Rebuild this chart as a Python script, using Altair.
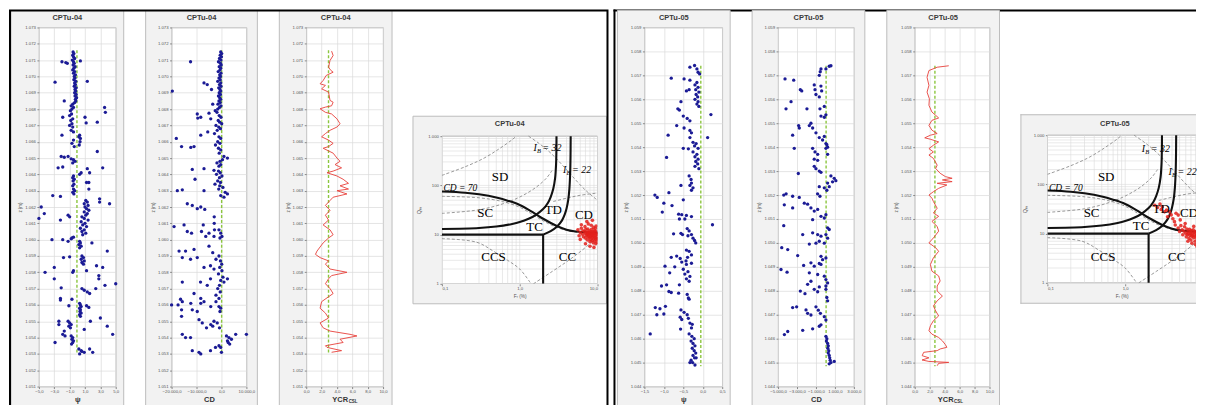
import altair as alt
import pandas as pd

# ---------------------------------------------------------------- data
# CPTu-04 : state parameter psi (z, psi)
psiL = [
(1071.5,-0.55),(1071.4,-0.45),(1071.3,-0.6),(1071.2,-0.5),(1071.1,-0.35),(1071.0,-0.65),(1070.9,-0.5),(1070.8,-0.4),
(1070.7,-0.55),(1070.6,-0.3),(1070.5,-0.45),(1070.4,-0.6),(1070.3,-0.35),(1070.2,-0.5),(1070.1,-0.25),(1070.0,-0.4),
(1069.9,-0.3),(1069.8,-0.45),(1069.7,-0.2),(1069.6,-0.35),(1069.5,-0.25),(1069.4,-0.4),(1069.3,-0.15),(1069.2,-0.3),
(1069.1,-0.2),(1069.0,-0.35),(1068.9,-0.15),(1068.8,-0.3),(1068.7,-0.1),(1068.6,-0.25),(1068.5,-0.2),(1068.4,-0.35),
(1068.3,-0.6),(1068.2,-0.8),(1068.1,-0.5),(1068.0,-0.7),
(1070.9,-2.0),(1070.85,-1.5),(1070.8,-1.3),(1070.95,0.4),(1069.65,-2.9),(1069.7,1.3),(1068.5,-1.7),(1068.1,3.55),
(1067.8,3.65),(1067.5,-1.9),(1067.5,1.0),(1067.15,1.15),(1067.2,2.6),(1066.4,-2.0),
(1067.9,-0.9),(1067.7,-0.75),(1067.6,-1.0),(1067.4,-0.6),(1067.3,-0.85),(1067.1,-0.7),(1067.0,-1.0),(1066.9,-0.6),
(1066.7,-0.8),(1066.6,-0.5),(1066.4,0.3),(1066.3,0.2),(1066.2,0.4),(1066.1,-0.5),(1066.0,0.35),(1065.9,-0.7),
(1065.8,0.25),(1065.7,-0.4),(1065.4,2.6),(1065.1,-2.1),(1065.05,-1.7),(1065.1,-1.2),(1064.95,-0.8),(1064.9,-0.5),
(1064.8,-0.3),(1064.7,-0.6),(1064.4,3.3),(1064.4,-2.5),(1064.45,-1.9),(1064.35,1.3),(1064.1,1.6),(1064.1,0.5),
(1064.0,0.3),(1063.9,-0.5),(1063.8,-0.6),(1063.7,-0.4),(1063.6,-0.55),(1063.5,1.2),(1063.5,1.5),(1063.4,-0.45),
(1063.3,-0.6),(1063.1,1.5),(1063.1,-0.5),(1063.0,-0.35),(1062.9,-0.6),(1062.8,-0.45),(1062.7,-3.2),(1062.65,-2.2),
(1062.5,2.9),
(1062.0,-4.7),(1061.6,-4.3),(1061.3,-5.0),(1061.5,-1.2),(1061.4,-1.0),(1061.2,-2.2),(1062.2,4.2),(1062.3,2.9),
(1062.4,1.1),(1062.3,1.3),(1062.2,0.9),(1062.1,1.4),(1062.0,1.0),(1061.9,1.2),(1061.8,1.5),(1061.7,0.9),
(1061.6,1.3),(1061.5,1.1),(1061.4,0.6),(1061.3,0.9),(1061.2,1.4),(1061.1,0.5),(1061.0,1.0),(1060.9,0.7),
(1060.8,1.2),(1060.7,0.4),(1060.6,0.9),(1060.5,0.6),(1060.4,1.1),(1060.3,0.7),
(1060.1,-0.7),(1060.15,-0.5),(1060.05,-0.8),(1060.0,-1.9),(1059.9,-1.2),(1060.0,-3.3),(1059.9,0.3),(1059.8,0.4),
(1059.7,0.2),(1059.6,0.5),(1059.5,0.3),(1059.8,1.9),(1059.3,3.9),(1058.9,-1.8),(1058.95,-1.0),(1059.0,0.6),
(1058.9,0.8),(1058.8,0.5),(1058.7,0.9),(1058.6,0.6),(1058.5,0.8),(1058.4,2.5),(1058.3,3.3),(1058.3,-3.0),
(1058.0,-4.2),(1057.6,-3.0),(1058.1,-0.5),(1058.0,-0.6),(1058.1,1.2),(1057.8,2.8),(1057.6,2.8),(1057.3,5.0),
(1057.2,3.6),(1057.0,0.6),(1056.9,0.9),(1056.8,1.3),(1056.7,1.6),(1057.05,-2.1),(1057.0,2.4),(1056.4,-2.2),
(1056.3,-2.2),(1056.35,-0.7),(1056.1,0.3),(1056.0,0.4),(1055.9,0.5),(1055.8,0.3),(1055.7,0.4),(1055.6,0.35),
(1055.5,0.5),(1055.4,0.3),(1055.3,0.4),(1055.95,-1.1),(1055.95,1.2),(1055.85,1.5),(1055.0,-2.4),(1054.8,-2.4),
(1055.0,-1.2),(1054.9,-1.0),(1054.8,-0.8),(1054.7,-1.1),(1054.6,-0.9),(1055.0,1.7),(1055.2,3.0),(1054.7,3.9),
(1054.2,4.6),(1054.5,0.9),(1054.4,-1.7),(1054.2,-1.9),(1054.1,-1.6),(1053.7,-2.9),(1054.1,-0.8),(1054.0,-0.6),
(1053.9,-0.7),(1053.8,-0.5),(1053.7,-0.6),(1053.6,-0.75),(1053.3,0.2),(1053.2,0.5),(1053.1,0.9),(1053.0,0.3),
(1053.15,0.6),(1053.3,1.6),(1053.1,2.0),
]

# CPTu-04 : CD (z, CD)
cdL = [
(1071.5,-300),(1071.4,100),(1071.3,-500),(1071.2,0),(1071.1,-800),(1071.0,-200),(1070.9,-1200),(1070.8,-400),
(1070.7,-100),(1070.6,-900),(1070.5,-300),(1070.4,-600),(1070.3,-1300),(1070.2,-200),(1070.1,-700),(1070.0,-400),
(1069.9,-1000),(1069.8,-500),(1069.7,-1500),(1069.6,-300),(1069.5,-800),(1069.4,-200),(1069.3,-1100),(1069.2,-600),
(1069.1,-300),(1069.0,-900),(1068.9,-400),(1068.8,-1200),(1068.7,-700),(1068.6,-300),(1068.5,-1000),(1068.4,-500),
(1068.3,-1400),(1068.2,-200),(1068.1,-800),(1068.0,-1500),
(1070.9,-12400),(1069.1,-19700),(1069.6,-7000),(1069.5,-5700),(1069.2,-4000),(1067.7,-9700),(1067.5,-8300),
(1067.45,-9500),(1067.75,-5000),(1067.4,-4300),(1068.3,-3500),(1066.2,-18100),(1065.7,-16000),(1065.65,-12300),
(1065.7,-11000),(1066.4,-8300),(1066.6,-5500),(1064.3,-11700),(1063.7,-10600),(1064.35,-7000),(1064.25,-3000),
(1064.5,-1000),(1063.0,-17700),(1063.05,-15700),(1063.0,-7000),
(1067.9,-2500),(1067.8,-1800),(1067.6,-900),(1067.5,-200),(1067.3,-1300),(1067.2,-700),(1067.1,100),(1067.0,-2200),
(1066.9,-1100),(1066.8,-400),(1066.7,-1700),(1066.5,-2800),(1066.3,-1000),(1066.2,-300),(1066.0,-1500),(1065.9,-600),
(1065.8,-2400),(1065.6,-1200),(1065.5,-300),(1065.3,-900),(1065.1,1000),(1065.0,2400),(1064.9,400),(1064.8,-600),
(1064.7,-1800),(1064.6,-300),(1064.2,-1200),(1064.1,-500),(1064.0,-2000),(1063.9,200),(1063.8,-800),(1063.6,-1500),
(1063.5,-400),(1063.4,-2600),(1063.3,-700),(1063.2,600),(1063.1,-1100),(1062.9,1500),(1062.8,2400),(1062.7,-300),
(1062.6,1000),
(1062.2,-13700),(1062.1,-11700),(1061.9,-9700),(1062.0,-8300),(1061.85,-6700),(1060.8,-19000),(1060.9,-15000),
(1060.5,-13700),(1060.4,-12000),(1060.9,-7300),(1060.5,-8000),(1060.4,-5000),(1060.2,-6300),(1061.4,-2900),
(1061.0,-2900),(1060.6,-2800),(1060.2,-3000),(1060.6,-1000),(1060.4,-300),(1060.2,200),(1060.1,-600),(1059.3,-17000),
(1059.3,-14400),(1059.4,-11000),(1058.9,-9700),(1059.6,-5000),(1059.2,-3500),(1058.8,-2200),(1058.9,-15700),
(1058.8,-12400),(1058.3,-7000),(1058.4,-4400),(1058.2,-3000),(1059.0,-1000),(1058.7,-400),(1058.5,100),(1058.3,-700),
(1058.1,200),(1057.9,-1200),(1057.7,600),(1057.6,2400),(1057.4,1000),(1057.5,-300),(1057.4,-15700),(1057.4,-8400),
(1057.2,-5700),(1057.6,-4400),(1057.2,-800),(1057.0,-1500),(1056.8,-500),(1056.7,-11000),(1056.4,-8300),
(1056.6,-2200),(1056.4,-1000),(1056.35,-16400),(1056.2,-15700),(1056.0,-20000),(1056.0,-17400),(1055.7,-16000),
(1056.1,-12300),(1056.1,-8300),(1056.2,-7000),(1055.7,-11700),(1055.6,-9700),(1055.9,-4300),(1056.2,-2200),
(1055.9,-1000),(1055.8,-300),(1055.6,-600),(1055.3,-16000),(1055.1,-9000),(1054.9,-7700),(1054.8,-4300),
(1054.6,-6000),(1055.0,-3000),(1054.7,-3500),(1054.9,-1700),(1054.6,-800),(1054.2,-15700),(1054.0,-14400),
(1054.0,-12400),(1054.1,2000),(1054.0,3000),(1053.9,4000),(1053.8,2400),(1053.7,2700),(1053.6,3300),(1054.2,5700),
(1054.2,10000),(1053.2,-11700),(1053.1,-9000),(1053.0,-8300),(1053.2,-4400),(1053.4,-2400),(1053.5,-1000),
(1053.4,-300),(1053.1,0),
]

# CPTu-04 : YCR_CSL profile (z, YCR)
ycrL = [
(1071.55,3.3),(1071.28,3.5),(1070.98,3.1),(1070.57,2.9),(1070.37,3.2),(1070.26,3.5),(1070.06,2.6),(1069.75,2.2),
(1069.55,1.8),(1069.45,2.5),(1069.24,2.0),(1069.04,2.9),(1068.53,3.1),(1068.42,3.5),(1068.2,3.3),(1068.12,2.5),
(1068.02,1.8),(1067.8,2.5),(1067.7,3.3),(1067.4,4.0),(1067.1,4.4),(1066.9,4.0),(1066.7,3.1),(1066.5,2.5),
(1066.3,2.0),(1066.1,2.9),(1065.9,3.5),(1065.7,2.9),(1065.6,2.2),(1065.3,3.5),(1065.0,4.0),(1064.8,4.4),
(1064.6,3.75),(1064.4,4.6),(1064.2,3.5),(1064.1,2.7),(1063.9,4.0),(1063.7,4.8),(1063.45,5.5),(1063.3,4.4),
(1063.1,5.5),(1063.0,4.0),(1062.8,5.3),(1062.6,3.5),(1062.4,3.1),(1062.1,2.5),(1061.8,3.1),(1061.5,2.5),
(1061.2,2.9),(1060.9,2.2),(1060.6,3.1),(1060.3,3.5),(1060.1,2.9),(1059.8,2.2),(1059.3,1.4),(1059.1,1.2),
(1058.9,1.8),(1058.7,2.9),(1058.5,2.5),(1058.2,3.1),(1058.0,5.3),(1057.8,3.3),(1057.6,2.9),(1057.3,2.5),
(1057.0,3.1),(1056.7,3.5),(1056.5,2.9),(1056.2,2.0),(1055.8,1.8),(1055.5,2.5),(1055.2,2.9),(1054.9,1.8),
(1054.6,2.2),(1054.4,3.1),(1054.2,5.7),(1054.1,6.6),(1053.9,4.4),(1053.7,4.8),(1053.5,2.5),(1053.4,2.7),
(1053.2,4.6),(1053.1,3.3),
]

# CPTu-05 : psi (z, psi)
psiR = [
(1057.34,-0.33),(1057.41,-0.21),(1057.27,-0.15),(1057.13,-0.12),(1057.06,-0.08),(1056.88,-0.81),(1056.85,-0.48),
(1056.8,-0.33),(1056.7,-0.15),(1056.6,-0.2),(1056.5,-0.12),(1056.4,-0.18),(1056.3,-0.1),(1056.2,-0.17),
(1056.1,-0.13),(1056.0,-0.2),(1055.9,-0.12),(1055.8,-0.15),(1055.7,-0.1),(1056.4,-0.35),(1056.35,-0.42),
(1055.9,-0.56),(1055.6,-0.64),(1055.55,-0.6),(1055.36,0.21),(1055.3,-0.5),(1055.2,-0.4),(1055.1,-0.33),
(1054.9,-0.67),(1054.8,-0.48),(1054.7,-0.33),(1054.6,-0.29),(1054.5,-0.89),(1054.4,-0.33),(1054.2,-0.25),
(1054.15,-0.17),(1054.05,-0.21),(1053.95,-0.12),(1054.4,0.125),(1053.95,-0.5),(1053.93,-0.37),(1053.8,-0.25),
(1053.7,-0.15),(1053.6,-0.2),(1053.5,-0.12),(1053.4,-0.18),(1053.3,-0.13),(1053.2,-0.2),(1053.1,-0.1),
(1053.57,-0.93),(1052.8,-0.35),(1052.65,-0.3),(1052.5,-0.29),(1052.4,-0.33),(1052.3,-0.25),(1052.2,-0.29),
(1052.4,-0.56),(1052.1,-0.87),(1052.0,-1.23),(1051.9,-1.17),(1051.8,-0.5),(1051.66,-1.0),(1051.56,-0.79),
(1051.29,-1.04),(1051.2,-0.62),(1051.18,-0.54),(1051.15,-0.42),(1051.0,-0.6),(1051.0,-0.46),(1051.1,-0.29),
(1050.76,0.25),(1050.38,-0.75),(1050.4,-0.56),(1050.35,-0.52),(1050.6,-0.4),(1050.5,-0.35),(1050.35,-0.29),
(1050.3,-0.38),(1050.2,-0.25),(1050.1,-0.21),(1050.0,-0.18),(1049.7,-0.42),(1049.65,-0.35),(1049.5,-0.29),
(1049.4,-0.39),(1049.25,-0.43),(1049.4,-0.81),(1049.45,-0.67),(1049.35,-0.58),(1049.2,-0.54),(1049.1,-0.42),
(1049.15,-0.29),(1049.03,-0.97),(1049.0,-0.72),(1048.75,-0.85),(1048.9,-0.5),(1048.8,-0.38),(1048.7,-0.46),
(1048.6,-0.33),(1048.5,-0.42),(1048.4,-0.35),(1048.2,-1.06),(1048.25,-0.93),(1047.97,-0.87),(1048.25,-0.6),
(1047.93,-0.81),(1047.9,-0.62),(1047.85,-0.4),(1047.65,-0.35),(1047.7,-0.37),(1047.3,-1.22),(1047.25,-1.1),
(1047.35,-0.96),(1047.0,-1.18),(1047.03,-1.0),(1047.2,-0.56),(1047.1,-0.48),(1046.9,-0.58),(1047.0,-0.4),
(1046.8,-0.54),(1046.85,-0.37),(1046.65,-0.33),(1046.6,-0.27),(1046.2,-1.35),(1046.4,-0.57),(1046.45,-0.29),
(1046.2,-0.35),(1046.1,-0.28),(1046.0,-0.22),(1045.9,-0.3),(1045.8,-0.25),(1045.7,-0.2),(1045.6,-0.27),
(1045.5,-0.22),(1045.4,-0.18),(1045.3,-0.25),(1045.2,-0.21),(1045.1,-0.3),(1045.0,-0.26),(1044.9,-0.2),
(1045.0,-0.33),(1045.2,-0.17),
]

# CPTu-05 : CD (z, CD)
cdR = [
(1057.38,400),(1057.4,580),(1057.27,-470),(1057.15,-550),(1057.0,-650),(1057.27,50),(1056.85,-4265),(1056.8,-3350),
(1056.6,-1180),(1056.55,-475),(1056.4,-1100),(1056.35,-400),(1056.2,-1000),(1056.1,-650),(1056.4,-2650),
(1056.35,-2500),(1055.9,-3630),(1055.6,-4160),(1055.6,-1950),(1055.6,-580),(1055.7,-120),(1055.0,-1530),
(1054.9,-1700),(1054.8,-1350),(1054.6,-1000),(1054.9,-2830),(1054.8,-2760),(1055.3,-470),(1055.25,-120),
(1055.35,50),(1054.5,-3460),(1054.4,-650),(1054.3,-300),(1054.45,-120),(1054.15,50),(1054.1,150),(1054.0,230),
(1053.95,-3290),(1053.95,-1350),(1053.8,-1100),(1053.7,-820),(1053.5,-1180),(1053.45,-820),(1053.95,50),
(1053.7,230),(1052.9,-2860),(1053.2,-1180),(1053.1,-1000),(1053.0,-650),(1052.95,-470),(1052.8,580),(1052.7,930),
(1052.6,1100),(1052.55,750),(1052.5,230),(1052.35,400),(1052.2,150),(1052.35,-650),(1052.3,-120),(1052.05,-830),
(1051.95,-580),(1052.0,-4400),(1052.05,-4150),(1051.95,-3460),(1051.9,-2760),(1051.59,-4340),(1051.46,-3460),
(1051.66,-2230),(1051.62,-1880),(1051.46,-1530),(1051.33,-1180),(1051.4,-820),(1051.11,-470),(1051.04,-120),
(1051.18,50),(1050.97,-1350),(1050.72,-4400),(1050.35,-2400),(1050.42,-1350),(1050.35,-820),(1050.28,-470),
(1050.63,230),(1050.56,400),(1050.35,50),(1050.2,230),(1049.95,-1700),(1049.99,-1000),(1050.07,-650),
(1049.99,-120),(1049.8,-4610),(1049.72,-3980),(1049.47,-2930),(1049.44,-470),(1049.3,-300),(1049.37,50),
(1049.06,-2300),(1049.17,-1530),(1049.03,-1180),(1049.14,-650),(1049.1,-470),(1048.89,-4690),(1048.78,-4050),
(1048.75,-1700),(1048.68,-820),(1048.61,-120),(1048.47,50),(1048.33,230),(1048.2,50),(1048.27,-1880),
(1048.4,-1530),(1047.99,-2650),(1047.88,-2160),(1048.06,-1180),(1047.96,-820),(1048.16,-650),(1048.06,50),
(1047.72,150),(1047.58,230),(1047.3,-3460),(1047.33,-3040),(1047.2,-2050),(1047.06,-1880),(1046.99,-1530),
(1047.33,-1000),(1047.19,-750),(1047.06,-530),(1046.92,-120),(1046.78,50),(1046.3,-3980),(1046.17,-4330),
(1046.35,-2400),(1046.41,-1350),(1046.52,-650),(1046.58,-470),(1046.1,50),(1046.0,150),(1045.9,100),
(1045.8,230),(1045.7,300),(1045.6,250),(1045.5,350),(1045.4,300),(1045.3,400),(1045.2,450),(1045.1,500),
(1045.0,580),(1045.05,930),(1044.95,400),
]

# CPTu-05 : YCR_CSL profile (z, YCR)
ycrR = [
(1057.4,4.55),(1057.34,3.0),(1057.2,1.9),(1056.92,1.65),(1056.58,1.9),(1056.3,1.65),(1056.02,1.96),(1055.75,1.9),
(1055.47,2.3),(1055.33,2.8),(1055.22,3.2),(1055.12,2.3),(1054.91,1.9),(1054.71,2.3),(1054.57,3.0),(1054.5,2.1),
(1054.39,1.34),(1054.33,2.1),(1054.22,3.2),(1054.08,2.5),(1053.94,1.9),(1053.8,2.5),(1053.67,1.9),(1053.53,2.5),
(1053.25,3.0),(1053.11,2.8),(1052.91,3.4),(1052.77,4.1),(1052.7,5.0),(1052.63,3.7),(1052.56,5.0),(1052.49,3.0),
(1052.42,4.3),(1052.28,3.2),(1052.14,2.5),(1052.0,1.9),(1051.87,2.3),(1051.73,2.5),(1051.45,3.0),(1051.25,2.5),
(1051.11,3.2),(1050.9,2.3),(1050.69,3.0),(1050.49,3.2),(1050.21,2.5),(1050.0,1.9),(1049.8,2.8),(1049.65,3.2),
(1049.38,2.5),(1049.1,2.1),(1048.82,2.3),(1048.62,3.2),(1048.41,3.4),(1048.2,3.0),(1047.99,3.0),(1047.78,3.7),
(1047.58,3.0),(1047.37,2.5),(1047.16,2.8),(1046.95,3.2),(1046.75,2.5),(1046.54,2.1),(1046.33,1.9),(1046.19,2.3),
(1046.05,3.2),(1045.91,3.7),(1045.75,4.1),(1045.64,4.3),(1045.57,3.4),(1045.5,3.0),(1045.43,1.2),(1045.29,1.0),
(1045.2,1.9),(1045.11,0.98),(1045.05,1.9),(1045.01,4.55),(1044.97,3.2),(1044.87,3.0),
]

# reference (green dashed) lines: value, z top, z bottom
refL = {"psi": (-0.05, 1071.6, 1053.0), "cd": (70, 1071.6, 1053.0), "ycr": (2.9, 1071.6, 1053.0)}
refR = {"psi": (-0.05, 1057.4, 1044.85), "cd": (70, 1057.4, 1044.85), "ycr": (2.7, 1057.4, 1044.85)}

# classification chart points (Fr %, Qtn)
redL = [
(5.6,12.5),(6.0,11.0),(6.2,13.5),(6.4,10.2),(6.5,12.0),(6.6,9.0),(6.8,11.5),(6.9,14.5),(7.0,10.5),(7.0,8.5),
(7.1,12.8),(7.2,9.6),(7.3,11.2),(7.4,10.0),(7.4,7.8),(7.5,13.0),(7.6,9.2),(7.6,11.0),(7.7,10.4),(7.8,8.6),
(7.8,12.0),(7.9,9.8),(8.0,10.8),(8.0,7.2),(8.1,9.0),(8.2,11.6),(8.2,8.0),(8.3,10.2),(8.4,9.4),(8.4,12.8),
(8.5,7.6),(8.6,10.8),(8.6,8.8),(8.7,9.9),(8.8,11.5),(8.8,6.8),(8.9,8.2),(9.0,10.4),(9.0,9.2),(9.1,12.0),
(9.2,7.4),(9.3,10.9),(9.3,8.6),(9.4,9.6),(9.5,11.8),(9.5,6.5),(9.6,8.0),(9.7,10.2),(9.8,9.0),(9.9,7.0),
(8.3,15.5),(7.6,16.5),(8.9,14.0),(9.6,15.0),(6.2,15.8),(7.0,6.5),(8.0,5.8),(9.0,5.5),(7.3,18.5),(8.6,19.5),
(9.4,13.5),(6.0,8.0),(5.8,9.5),(10.0,10.5),(10.0,8.2),
]
redR = [
(4.4,15.0),(4.8,13.0),(5.0,11.0),(5.2,14.5),(5.4,12.0),(5.5,9.5),(5.7,11.2),(5.8,13.8),(6.0,10.2),(6.1,8.6),
(6.2,12.4),(6.3,9.6),(6.4,11.0),(6.5,10.0),(6.6,8.0),(6.7,12.2),(6.8,9.2),(6.9,10.8),(7.0,9.8),(7.0,7.4),
(7.1,11.5),(7.2,8.8),(7.3,10.2),(7.4,9.0),(7.5,12.0),(7.6,8.2),(7.7,10.6),(7.8,9.4),(7.9,7.0),(8.0,11.0),
(8.1,8.6),(8.2,10.0),(8.3,9.0),(8.4,7.8),(8.5,10.6),(8.6,8.4),(8.8,9.6),(8.9,6.8),(9.0,11.4),(9.1,8.8),
(9.2,9.8),(9.4,7.6),(9.5,10.2),(9.6,8.4),(9.8,9.2),(9.9,6.2),(8.0,6.0),(7.2,6.4),(6.4,7.0),(8.6,13.0),
(7.6,14.0),(5.9,16.0),(9.3,12.6),(8.4,5.4),
(2.4,37.6),(2.6,34.0),(2.9,31.0),(3.2,27.7),(3.4,30.0),(3.7,27.7),(3.9,24.0),(3.5,22.0),(4.1,20.0),(4.8,23.8),
(4.3,17.5),(5.1,19.0),(3.0,35.0),(4.5,26.0),(2.8,40.0),
]

# boundaries of the classification chart (Fr %, Qtn)
bound_curves = {
    "cd70": [(0.1,75),(0.2,71),(0.3,66),(0.5,57),(0.7,49),(1.0,40),(1.5,28),(2.0,21),(3.0,15),(4.0,12.6),
             (5.0,11.7),(7.0,11.2),(10.0,11.0)],
    "ib32": [(0.1,13),(0.3,13.6),(0.5,14.6),(0.8,16.5),(1.0,18),(1.3,21),(1.6,25),(2.0,33),(2.3,44),(2.5,58),
             (2.7,85),(2.85,140),(2.93,260),(2.96,500),(2.97,1000)],
    "ib22": [(2.0,10),(2.5,11.8),(3.0,14.5),(3.5,19.5),(3.8,26),(4.0,34),(4.2,50),(4.35,85),(4.45,170),
             (4.5,400),(4.52,1000)],
    "h10": [(0.1,10),(2.0,10)],
    "v2": [(2.0,1),(2.0,10)],
}
dash_curves = {
    "a": [(0.1,160),(0.2,240),(0.35,360),(0.55,560),(0.8,850),(0.9,1000)],
    "b": [(1.3,1000),(1.8,700),(2.6,430),(3.6,250),(5.0,140),(7.0,80),(10.0,50)],
    "c": [(0.1,60),(0.3,56),(0.6,47),(1.0,36),(1.5,25),(2.0,19),(3.0,14),(5.0,11.3),(10.0,10.6)],
    "d": [(0.1,27),(0.3,32),(0.6,42),(1.0,58),(1.6,90),(2.2,140),(2.6,200)],
    "e": [(2.7,47),(4.0,55),(6.0,63),(10.0,70)],
    "f": [(0.1,8.3),(0.28,7.0),(0.46,4.6),(0.7,3.0),(1.0,2.0),(1.4,1.0)],
    "g": [(1.5,1.0),(2.5,1.7),(4.0,2.8),(6.0,4.5),(9.5,8.3)],
}
zonesL = [("SD",0.56,150),("SC",0.36,27),("TD",2.7,31),("CD",6.7,25),("TC",1.55,14.5),("CCS",0.46,3.5),("CC",4.1,3.5)]
zonesR = [("SD",0.57,140),("SC",0.37,26),("TD",2.9,32),("CD",6.6,26),("TC",1.6,14.5),("CCS",0.52,3.4),("CC",4.6,3.4)]
ib_labelsL = [("= 32",2.2,570),("= 22",5.3,205)]
ib_labelsR = [("= 32",2.4,520),("= 22",5.3,175)]
cd_labelL = ("CD = 70",0.105,90)
cd_labelR = ("CD = 70",0.105,85)

fr_grid = [0.1,0.2,0.3,0.4,0.5,0.6,0.7,0.8,0.9,1,2,3,4,5,6,7,8,9,10]
q_grid = [1,2,3,4,5,6,7,8,9,10,20,30,40,50,60,70,80,90,100,200,300,400,500,600,700,800,900,1000]

# ---------------------------------------------------------------- style
FONT = "Liberation Sans"
SERIF = "Liberation Serif"
H = 360
GRID = "#dadada"
BLUE = "#1b1b95"
GREEN = "#8cc63f"
REDL = "#e8403a"
BOXF = "#f2f2f2"
BOXS = "#bdbdbd"
ZLAB = "replace(format(datum.value, ','), ',', '.')"
DEC1 = "replace(format(datum.value, '.1f'), '.', ',')"
THOUS = "replace(replace(replace(format(datum.value, ',.1f'), ',', '#'), '.', ','), '#', '.')"


def one(**kw):
    return pd.DataFrame({k: [v] for k, v in kw.items()})


def rect(x1, x2, y1, y2, fill, stroke, sw):
    m = alt.Chart(one(a=0)).mark_rect(fill=fill, stroke=stroke, strokeWidth=sw) if sw > 0 else \
        alt.Chart(one(a=0)).mark_rect(fill=fill)
    return m.encode(x=alt.value(x1), x2=alt.value(x2), y=alt.value(y1), y2=alt.value(y2))


def spacer(w, rects):
    return alt.layer(*[rect(*r) for r in rects]).properties(
        width=w, height=H, view=alt.ViewBackground(fill="transparent", stroke="transparent"))


def depth(pts, kind, xdom, xvals, xexpr, zdom, width, xtitle, ptitle, tx, ref, sub=None):
    X = alt.X("v:Q", scale=alt.Scale(domain=xdom, nice=False, zero=False),
              axis=alt.Axis(values=xvals, labelExpr=xexpr, title=xtitle, grid=True, gridColor=GRID,
                            gridWidth=0.7, domain=False, tickSize=2, tickColor="#888", labelFontSize=4.3,
                            labelColor="#555", labelPadding=1, titleFontSize=7.5, titleFontWeight="bold",
                            titleColor="#333", titlePadding=2, labelFlush=False))
    Y = alt.Y("z:Q", scale=alt.Scale(domain=zdom, nice=False, zero=False),
              axis=alt.Axis(values=list(range(zdom[0], zdom[1] + 1)), labelExpr=ZLAB, title="z (m)",
                            grid=True, gridColor=GRID, gridWidth=0.7, domain=False, tickSize=2,
                            tickColor="#888", labelFontSize=4.3, labelColor="#555", labelPadding=1.5,
                            titleFontSize=4.5, titleFontWeight="normal", titleColor="#555",
                            titlePadding=2))
    df = pd.DataFrame(pts, columns=["z", "v"])
    if kind == "pts":
        main = alt.Chart(df).mark_circle(size=11, color=BLUE, opacity=1).encode(x=X, y=Y)
    else:
        df["i"] = range(len(df))
        main = alt.Chart(df).mark_line(color=REDL, strokeWidth=0.9).encode(x=X, y=Y, order="i:Q")
    g = alt.Chart(one(v=ref[0], z=ref[1], z2=ref[2])).mark_rule(
        color=GREEN, strokeDash=[3, 2], strokeWidth=1.4).encode(x=X, y=Y, y2="z2:Q")
    ttl = alt.Chart(one(t=ptitle)).mark_text(font=FONT, fontSize=7.5, fontWeight="bold", color="#3a3a3a",
                                             baseline="middle").encode(
        x=alt.value(tx), y=alt.value(-9), text="t:N")
    layers = [g, main, ttl]
    if sub is not None:
        cx = sub
        layers.append(alt.Chart(one(t="YCR")).mark_text(font=FONT, fontSize=7.5, fontWeight="bold",
                                                         color="#333", align="right", baseline="middle").encode(
            x=alt.value(cx), y=alt.value(H + 13), text="t:N"))
        layers.append(alt.Chart(one(t="CSL")).mark_text(font=FONT, fontSize=4.5, fontWeight="bold",
                                                         color="#333", align="left", baseline="middle").encode(
            x=alt.value(cx + 0.5), y=alt.value(H + 15.5), text="t:N"))
    return alt.layer(*layers).properties(
        width=width, height=H, view=alt.ViewBackground(fill="white", stroke="#a9a9a9", strokeWidth=0.8))


def curves_df(dct):
    rows = []
    for name, pts in dct.items():
        for i, (f, q) in enumerate(pts):
            rows.append({"c": name, "i": i, "fr": f, "q": q})
    return pd.DataFrame(rows)


def cchart(red, zones, ibl, cdl, ptitle, tx, ty, yrange, width, frmax, xvals):
    X = alt.X("fr:Q", scale=alt.Scale(type="log", domain=[0.1, frmax], nice=False),
              axis=alt.Axis(values=xvals,
                            labelExpr="datum.value < 0.5 ? '0,1' : (datum.value < 5 ? '1,0' : '10,0')",
                            title="Fᵣ (%)", grid=False, domain=False, tickSize=2, tickColor="#888",
                            labelFontSize=4.3, labelColor="#555", labelPadding=1, titleFontSize=4.8,
                            titleFontWeight="normal", titleColor="#555", titlePadding=2))
    Y = alt.Y("q:Q", scale=alt.Scale(type="log", domain=[1, 1000], range=yrange, nice=False),
              axis=alt.Axis(values=[1, 10, 100, 1000],
                            labelExpr="datum.value > 500 ? '1.000' : format(datum.value, 'd')",
                            title="Qₜₙ", grid=False, domain=False, tickSize=2, tickColor="#888",
                            labelFontSize=4.3, labelColor="#555", labelPadding=1.5, titleFontSize=5.5,
                            titleFontWeight="normal", titleColor="#555", titlePadding=6))
    frame = alt.Chart(one(fr=0.1, fr2=10, q=1, q2=1000)).mark_rect(
        fill="white", stroke="#9a9a9a", strokeWidth=0.8, clip=True).encode(x=X, x2="fr2:Q", y=Y, y2="q2:Q")
    vg = alt.Chart(pd.DataFrame({"fr": [f for f in fr_grid if f <= frmax], "q": 1, "q2": 1000})).mark_rule(
        color=GRID, strokeWidth=0.6, clip=True).encode(x=X, y=Y, y2="q2:Q")
    hg = alt.Chart(pd.DataFrame({"q": q_grid, "fr": 0.1, "fr2": 10})).mark_rule(
        color=GRID, strokeWidth=0.6, clip=True).encode(y=Y, x=X, x2="fr2:Q")
    dsh = alt.Chart(curves_df(dash_curves)).mark_line(
        color="#808080", strokeWidth=0.8, strokeDash=[3, 2], interpolate="catmull-rom", clip=True).encode(
        x=X, y=Y, detail="c:N", order="i:Q")
    bnd = alt.Chart(curves_df(bound_curves)).mark_line(
        color="#111", strokeWidth=2.1, interpolate="catmull-rom", clip=True).encode(
        x=X, y=Y, detail="c:N", order="i:Q")
    pts = alt.Chart(pd.DataFrame(red, columns=["fr", "q"])).mark_circle(
        size=13, color="#e3201b", opacity=0.85, clip=True).encode(x=X, y=Y)
    zdf = pd.DataFrame(zones, columns=["t", "fr", "q"])
    ztxt = alt.Chart(zdf).mark_text(font=SERIF, fontSize=13, color="#000", baseline="middle", clip=True).encode(
        x=X, y=Y, text="t:N")
    cdt = alt.Chart(pd.DataFrame([cdl], columns=["t", "fr", "q"])).mark_text(
        font=SERIF, fontSize=9.5, fontStyle="italic", color="#000", align="left", baseline="middle").encode(
        x=X, y=Y, text="t:N")
    ibdf = pd.DataFrame(ibl, columns=["t", "fr", "q"])
    ibdf["i"] = "I"
    ibdf["b"] = "B"
    ib1 = alt.Chart(ibdf).mark_text(font=SERIF, fontSize=10, fontStyle="italic", color="#000",
                                    align="left", baseline="middle", dx=-13).encode(x=X, y=Y, text="i:N")
    ib2 = alt.Chart(ibdf).mark_text(font=SERIF, fontSize=6.5, fontStyle="italic", color="#000",
                                    align="left", baseline="middle", dx=-9.5, dy=3).encode(x=X, y=Y, text="b:N")
    ib3 = alt.Chart(ibdf).mark_text(font=SERIF, fontSize=10, fontStyle="italic", color="#000",
                                    align="left", baseline="middle", dx=-4).encode(x=X, y=Y, text="t:N")
    ttl = alt.Chart(one(t=ptitle)).mark_text(font=FONT, fontSize=7.5, fontWeight="bold", color="#3a3a3a",
                                             baseline="middle").encode(
        x=alt.value(tx), y=alt.value(ty), text="t:N")
    return alt.layer(frame, vg, hg, dsh, bnd, pts, ztxt, cdt, ib1, ib2, ib3, ttl).properties(
        width=width, height=257, view=alt.ViewBackground(fill="transparent", stroke="transparent"))


# ---------------------------------------------------------------- panels
P1L = depth(psiL, "pts", [-5, 5], [-5, -3, -1, 1, 3, 5], DEC1, [1051, 1073], 77, "ψ", "CPTu-04", 28.5, refL["psi"])
P2L = depth(cdL, "pts", [-20000, 10000], [-20000, -10000, 0, 10000], THOUS, [1051, 1073], 75, "CD", "CPTu-04", 30, refL["cd"])
P3L = depth(ycrL, "line", [0, 10], [0, 2, 4, 6, 8, 10], DEC1, [1051, 1073], 77, "", "CPTu-04", 29.5, refL["ycr"], sub=42)
CL = cchart(redL, zonesL, ib_labelsL, cd_labelL, "CPTu-04", 68, 97, [257, 109], 156, 10, [0.1, 1, 10])

P1R = depth(psiR, "pts", [-1.5, 0.5], [-1.5, -1.0, -0.5, 0, 0.5], DEC1, [1044, 1059], 78, "ψ", "CPTu-05", 29.5, refR["psi"])
P2R = depth(cdR, "pts", [-5000, 3000], [-5000, -3000, -1000, 1000, 3000], THOUS, [1044, 1059], 76, "CD", "CPTu-05", 30.5, refR["cd"])
P3R = depth(ycrR, "line", [0, 10], [0, 2, 4, 6, 8, 10], DEC1, [1044, 1059], 75, "", "CPTu-05", 28.5, refR["ycr"], sub=39)
# the right-hand chart is cut by the edge of the picture at about Fr = 8.1 %
CR = cchart(redR, zonesR, ib_labelsR, cd_labelR, "CPTu-05", 67.7, 96.7, [256, 108], 149, 8.13, [0.1, 1])

sp0 = spacer(1, [(-27, 86, -17, 384, BOXF, BOXS, 1)])
sp1 = spacer(56, [(30, 142, -17, 384, BOXF, BOXS, 1)])
sp2 = spacer(60, [(33, 146, -17, 384, BOXF, BOXS, 1)])
sp3 = spacer(59, [(30, 224, 89, 277, BOXF, BOXS, 1)])
sp4 = spacer(47, [(-589, 10, -17, 386, "transparent", "black", 2),
                  (16, 600, -18, -16, "black", "black", 0),
                  (16, 18, -18, 386, "black", "black", 0),
                  (20, 133, -17, 384, BOXF, BOXS, 1)])
sp5 = spacer(56, [(30, 143, -17, 384, BOXF, BOXS, 1)])
sp6 = spacer(61, [(33, 146, -17, 384, BOXF, BOXS, 1)])
sp7 = spacer(58, [(31, 207, 87, 277, BOXF, BOXF, 0),
                  (31, 32, 87, 277, BOXS, BOXS, 0),
                  (31, 207, 87, 88, BOXS, BOXS, 0),
                  (31, 207, 276, 277, BOXS, BOXS, 0)])

chart = alt.hconcat(sp0, P1L, sp1, P2L, sp2, P3L, sp3, CL, sp4, P1R, sp5, P2R, sp6, P3R, sp7, CR,
                    spacing=0, bounds="flush").properties(
    padding={"left": 0, "top": 0, "right": 0, "bottom": 0}).configure(font=FONT)

chart.save("out.html", embed_options={"renderer": "svg", "actions": False})
